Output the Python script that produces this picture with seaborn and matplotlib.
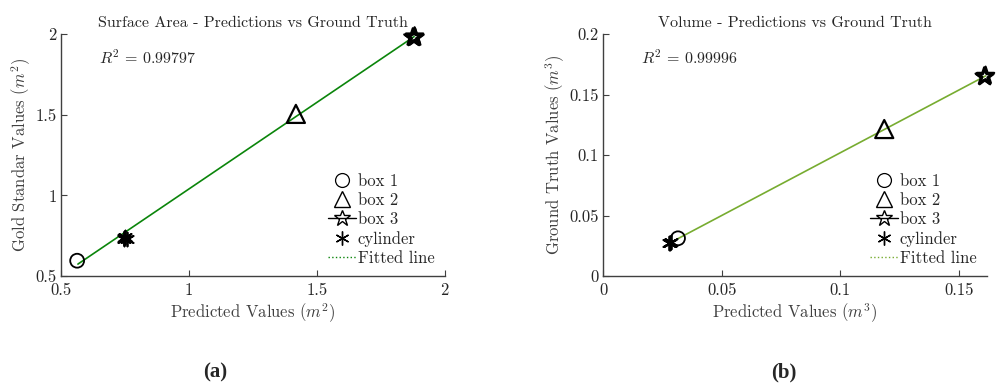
import matplotlib
matplotlib.use("Agg")
import numpy as np
import pandas as pd
import matplotlib.pyplot as plt
import seaborn as sns
from matplotlib.lines import Line2D

# --- surface area panel (a) ---
sa_box1_x = [0.563]
sa_box1_y = [0.595]
sa_box2_x = [1.418]
sa_box2_y = [1.505]
sa_box3_x = [1.875, 1.882, 1.879, 1.884]
sa_box3_y = [1.980, 1.986, 1.976, 1.979]
sa_cyl_x = [0.745, 0.752, 0.756, 0.748]
sa_cyl_y = [0.730, 0.740, 0.728, 0.736]
sa_fit_x = [0.566, 1.880]
sa_fit_y = [0.574, 1.984]
sa_r2 = "0.99797"
sa_xticks = [0.5, 1, 1.5, 2]
sa_xticklabels = ["0.5", "1", "1.5", "2"]
sa_yticks = [0.5, 1, 1.5, 2]
sa_yticklabels = ["0.5", "1", "1.5", "2"]

# --- volume panel (b) ---
vol_box1_x = [0.0316]
vol_box1_y = [0.0312]
vol_box2_x = [0.1185]
vol_box2_y = [0.1215]
vol_box3_x = [0.1606, 0.1612, 0.1609]
vol_box3_y = [0.1650, 0.1656, 0.1645]
vol_cyl_x = [0.0282, 0.0286, 0.0280]
vol_cyl_y = [0.0275, 0.0282, 0.0270]
vol_fit_x = [0.0282, 0.1612]
vol_fit_y = [0.0274, 0.1654]
vol_r2 = "0.99996"
vol_xticks = [0, 0.05, 0.1, 0.15]
vol_xticklabels = ["0", "0.05", "0.1", "0.15"]
vol_yticks = [0, 0.05, 0.1, 0.15, 0.2]
vol_yticklabels = ["0", "0.05", "0.1", "0.15", "0.2"]

sns.set_style("ticks")
plt.rcParams["font.family"] = ["cmr10", "DejaVu Serif"]
plt.rcParams["mathtext.fontset"] = "cm"
plt.rcParams["axes.unicode_minus"] = False

AX_COL = "#404040"
MS = 10
FS = 12


def panel(ax, d, fit_color, title, xlabel, ylabel, xlim, ylim):
    sns.scatterplot(x=d["b1x"], y=d["b1y"], ax=ax, marker="o", s=MS**2,
                    facecolor="none", edgecolor="black", linewidth=1.3,
                    zorder=3, clip_on=False)
    sns.scatterplot(x=d["b2x"], y=d["b2y"], ax=ax, marker="^", s=(MS + 3)**2,
                    facecolor="none", edgecolor="black", linewidth=1.6,
                    zorder=3, clip_on=False)
    sns.scatterplot(x=d["b3x"], y=d["b3y"], ax=ax, marker="*", s=(MS + 3)**2,
                    facecolor="none", edgecolor="black", linewidth=1.6,
                    zorder=3, clip_on=False)
    sns.scatterplot(x=d["cx"], y=d["cy"], ax=ax, marker=(6, 2, 0), s=MS**2,
                    color="black", linewidth=1.3, zorder=3, clip_on=False)
    sns.lineplot(x=d["fx"], y=d["fy"], ax=ax, color=fit_color, linewidth=1.2,
                 zorder=2)
    ax.set_xlim(*xlim)
    ax.set_ylim(*ylim)
    ax.set_xticks(d["xt"])
    ax.set_xticklabels(d["xtl"])
    ax.set_yticks(d["yt"])
    ax.set_yticklabels(d["ytl"])
    ax.set_title(title, fontsize=11.5, pad=5)
    ax.set_xlabel(xlabel, fontsize=FS, color=AX_COL, labelpad=2)
    ax.set_ylabel(ylabel, fontsize=FS, color=AX_COL, labelpad=2)
    ax.tick_params(direction="in", length=4, labelsize=FS, colors=AX_COL,
                   labelcolor="#262626", pad=3)
    ax.tick_params(axis="x", pad=5)
    for s in ["top", "right"]:
        ax.spines[s].set_visible(False)
    for s in ["left", "bottom"]:
        ax.spines[s].set_color(AX_COL)
        ax.spines[s].set_linewidth(1.0)
    ax.text(0.10, 0.905, r"$R^2\,=\,%s$" % d["r2"], transform=ax.transAxes,
            fontsize=11.5, va="center", ha="left")
    handles = [
        Line2D([], [], marker="o", ms=MS, mfc="none", mec="black", mew=0.9, ls="none"),
        Line2D([], [], marker="^", ms=MS + 2, mfc="none", mec="black", mew=1.0, ls="none"),
        Line2D([], [], marker="*", ms=MS + 2, mfc="none", mec="black", mew=1.0,
               color="black", lw=1.0),
        Line2D([], [], marker=(6, 2, 0), ms=MS, mec="black", mew=1.0, ls="none"),
        Line2D([], [], color=fit_color, ls=":", lw=1.0),
    ]
    labels = ["box 1", "box 2", "box 3", "cylinder", "Fitted line"]
    ax.legend(handles, labels, loc="lower right", bbox_to_anchor=(1.008, -0.012),
              frameon=False, fontsize=FS, handlelength=1.7, handletextpad=0.1,
              labelspacing=0.22, borderpad=0.3)
    ax.grid(False)


fig = plt.figure(figsize=(10.02, 3.85), dpi=100)
ax1 = fig.add_axes([0.0609, 0.283, 0.383, 0.6286])
ax2 = fig.add_axes([0.6018, 0.283, 0.383, 0.6286])

sa = dict(b1x=sa_box1_x, b1y=sa_box1_y, b2x=sa_box2_x, b2y=sa_box2_y,
          b3x=sa_box3_x, b3y=sa_box3_y, cx=sa_cyl_x, cy=sa_cyl_y,
          fx=sa_fit_x, fy=sa_fit_y, r2=sa_r2,
          xt=sa_xticks, xtl=sa_xticklabels, yt=sa_yticks, ytl=sa_yticklabels)
vol = dict(b1x=vol_box1_x, b1y=vol_box1_y, b2x=vol_box2_x, b2y=vol_box2_y,
           b3x=vol_box3_x, b3y=vol_box3_y, cx=vol_cyl_x, cy=vol_cyl_y,
           fx=vol_fit_x, fy=vol_fit_y, r2=vol_r2,
           xt=vol_xticks, xtl=vol_xticklabels, yt=vol_yticks, ytl=vol_yticklabels)

panel(ax1, sa, "#0b850b", "Surface Area - Predictions vs Ground Truth",
      r"Predicted Values ($m^2$)", r"Gold Standar Values ($m^2$)", (0.5, 2), (0.5, 2))
panel(ax2, vol, "#77AC30", "Volume - Predictions vs Ground Truth",
      r"Predicted Values ($m^3$)", r"Ground Truth Values ($m^3$)", (0, 0.1617), (0, 0.2))

fig.text(0.2145, 0.007, "(a)", fontsize=15, fontweight="bold",
         family=["Liberation Serif"], ha="center", va="bottom")
fig.text(0.7825, 0.007, "(b)", fontsize=15, fontweight="bold",
         family=["Liberation Serif"], ha="center", va="bottom")

fig.savefig("out.png", dpi=100)
